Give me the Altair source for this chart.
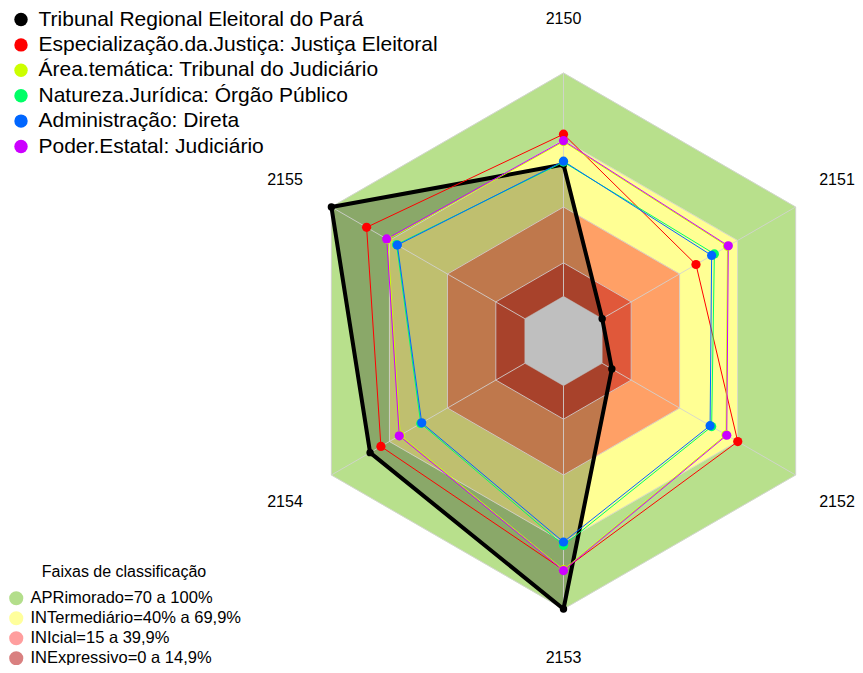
import math
import pandas as pd
import altair as alt

# ---------------- data ----------------
AXES = ["2150", "2151", "2152", "2153", "2154", "2155"]
SERIES = [
    "Tribunal Regional Eleitoral do Pará",
    "Especialização.da.Justiça: Justiça Eleitoral",
    "Área.temática: Tribunal do Judiciário",
    "Natureza.Jurídica: Órgão Público",
    "Administração: Direta",
    "Poder.Estatal: Judiciário",
]
COLORS = ["#000000", "#FF0000", "#CCFF00", "#00FF66", "#0066FF", "#CC00FF"]
V_TRE = [59, 0, 5, 100, 80, 100]
V_ESP = [72.6, 48.5, 70.1, 82.5, 74.4, 81.8]
V_AREA = [69.3, 64.8, 64.0, 82.4, 64.4, 70.9]
V_NAT = [60.1, 58.0, 56.6, 71.5, 53.8, 66.3]
V_ADM = [60.5, 56.6, 55.8, 70.0, 53.3, 65.9]
V_POD = [69.7, 65.2, 64.4, 82.8, 64.9, 71.4]
VALUES = [V_TRE, V_ESP, V_AREA, V_NAT, V_ADM, V_POD]

BAND_NAMES = [
    "APRimorado=70 a 100%",
    "INTermediário=40% a 69,9%",
    "INIcial=15 a 39,9%",
    "INExpressivo=0 a 14,9%",
]
BAND_TOPS = [100, 70, 40, 15, 0]
BAND_FILLS = ["#b8e08c", "#ffff94", "#ffa066", "#e0583a", "#ffffff"]
LEGEND_SWATCH = ["#b3de8b", "#ffff9c", "#ff9e9e", "#d98080"]
GRID_LEVELS = [15, 40, 70, 100]
RMIN, RMAX = -20, 100
LABEL_LEVEL = 124

# ---------------- geometry / style ----------------
W, H = 847, 657
CX, CY = 555.5, 333.0
R_PX = 268.0
K = R_PX / (RMAX - RMIN)
XS = alt.Scale(domain=[-CX / K, (W - CX) / K], nice=False, zero=False)
YS = alt.Scale(domain=[-(H - CY) / K, CY / K], nice=False, zero=False)
FONT = "Liberation Sans"


def xy(v, i):
    u = v - RMIN
    th = math.radians(60 * i)
    return u * math.sin(th), u * math.cos(th)


def ring(v, name):
    rows = []
    for j in range(7):
        x, y = xy(v, j % 6)
        rows.append({"g": name, "ord": j, "x": x, "y": y})
    return rows


X = alt.X("x:Q", scale=XS, axis=None)
Y = alt.Y("y:Q", scale=YS, axis=None)
ORD = alt.Order("ord:Q")

layers = []
# bands (stacked hexagons)
for top, col in zip(BAND_TOPS, BAND_FILLS):
    d = pd.DataFrame(ring(top, str(top)))
    layers.append(
        alt.Chart(d).mark_line(fill=col, stroke=col, strokeWidth=0.5)
        .encode(x=X, y=Y, order=ORD)
    )

# translucent fill of the main series
d_fill = pd.DataFrame([
    {"ord": j, "x": xy(V_TRE[j % 6], j % 6)[0], "y": xy(V_TRE[j % 6], j % 6)[1]}
    for j in range(7)
])
layers.append(
    alt.Chart(d_fill).mark_line(fill="#000000", fillOpacity=0.25, strokeOpacity=0)
    .encode(x=X, y=Y, order=ORD)
)

# grid: rings and spokes
grid_rows = []
for lv in GRID_LEVELS:
    grid_rows += ring(lv, "r%d" % lv)
for i in range(6):
    for j, lv in enumerate([0, 100]):
        x, y = xy(lv, i)
        grid_rows.append({"g": "s%d" % i, "ord": j, "x": x, "y": y})
layers.append(
    alt.Chart(pd.DataFrame(grid_rows)).mark_line(color="#d2d2d2", strokeWidth=1, opacity=0.85)
    .encode(x=X, y=Y, order=ORD, detail="g:N")
)

# series lines
for s, vals, col in zip(SERIES, VALUES, COLORS):
    rows = []
    for j in range(7):
        x, y = xy(vals[j % 6], j % 6)
        rows.append({"ord": j, "x": x, "y": y})
    sw = 4 if s == SERIES[0] else 1
    layers.append(
        alt.Chart(pd.DataFrame(rows))
        .mark_line(strokeWidth=sw, strokeJoin="round", color=col)
        .encode(x=X, y=Y, order=ORD)
    )

# series points
for s, vals, col in zip(SERIES, VALUES, COLORS):
    rows = []
    for i in range(6):
        x, y = xy(vals[i], i)
        rows.append({"x": x, "y": y})
    sz = 55 if s == SERIES[0] else 85
    layers.append(
        alt.Chart(pd.DataFrame(rows)).mark_circle(opacity=1, size=sz, color=col)
        .encode(x=X, y=Y)
    )

# invisible layer carrying the series legend
d_sl = pd.DataFrame({"serie": SERIES, "x": [0] * 6, "y": [0] * 6})
layers.append(
    alt.Chart(d_sl).mark_circle(opacity=0, size=1)
    .encode(
        x=X, y=Y,
        color=alt.Color(
            "serie:N",
            scale=alt.Scale(domain=SERIES, range=COLORS),
            legend=alt.Legend(
                orient="none", legendX=2.5, legendY=0,
                title=" ", titleFontSize=1, titlePadding=0,
                symbolType="circle", symbolSize=180, symbolStrokeWidth=0,
                symbolOpacity=1, labelFontSize=21, labelFont=FONT,
                labelColor="#000000", rowPadding=3.4, labelOffset=7,
                padding=0, labelLimit=600,
            ),
        ),
    )
)

# invisible layer carrying the band legend
d_bl = pd.DataFrame({"faixa": BAND_NAMES, "x": [0] * 4, "y": [0] * 4})
layers.append(
    alt.Chart(d_bl).mark_circle(opacity=0, size=1)
    .encode(
        x=X, y=Y,
        fill=alt.Fill(
            "faixa:N",
            scale=alt.Scale(domain=BAND_NAMES, range=LEGEND_SWATCH),
            legend=alt.Legend(
                orient="none", legendX=0, legendY=556,
                title="Faixas de classificação", titleFont=FONT,
                titleFontSize=16, titleFontWeight="normal", titleColor="#000000",
                titleAnchor="middle", titlePadding=10,
                symbolType="circle", symbolSize=200, symbolStrokeWidth=0,
                symbolOpacity=1, labelFontSize=16.5, labelFont=FONT,
                labelColor="#000000", rowPadding=3, labelOffset=6,
                padding=0, labelLimit=600,
            ),
        ),
    )
)

# axis labels (kept inside the drawing area)
HALF_W, HALF_H = 18, 7
lrow = []
for i, a in enumerate(AXES):
    x, y = xy(LABEL_LEVEL, i)
    x = min(x, (W - HALF_W - CX) / K)
    y = max(y, -(H - HALF_H - CY) / K)
    lrow.append({"lab": a, "x": x, "y": y})
layers.append(
    alt.Chart(pd.DataFrame(lrow)).mark_text(
        font=FONT, fontSize=16, color="#000000", align="center", baseline="middle"
    ).encode(x=X, y=Y, text="lab:N")
)

chart = alt.layer(*layers).properties(
    width=W, height=H, padding=0,
    autosize=alt.AutoSizeParams(type="none"),
).configure_view(stroke=None)

chart.save("out.html", embed_options={"renderer": "svg", "actions": False})
